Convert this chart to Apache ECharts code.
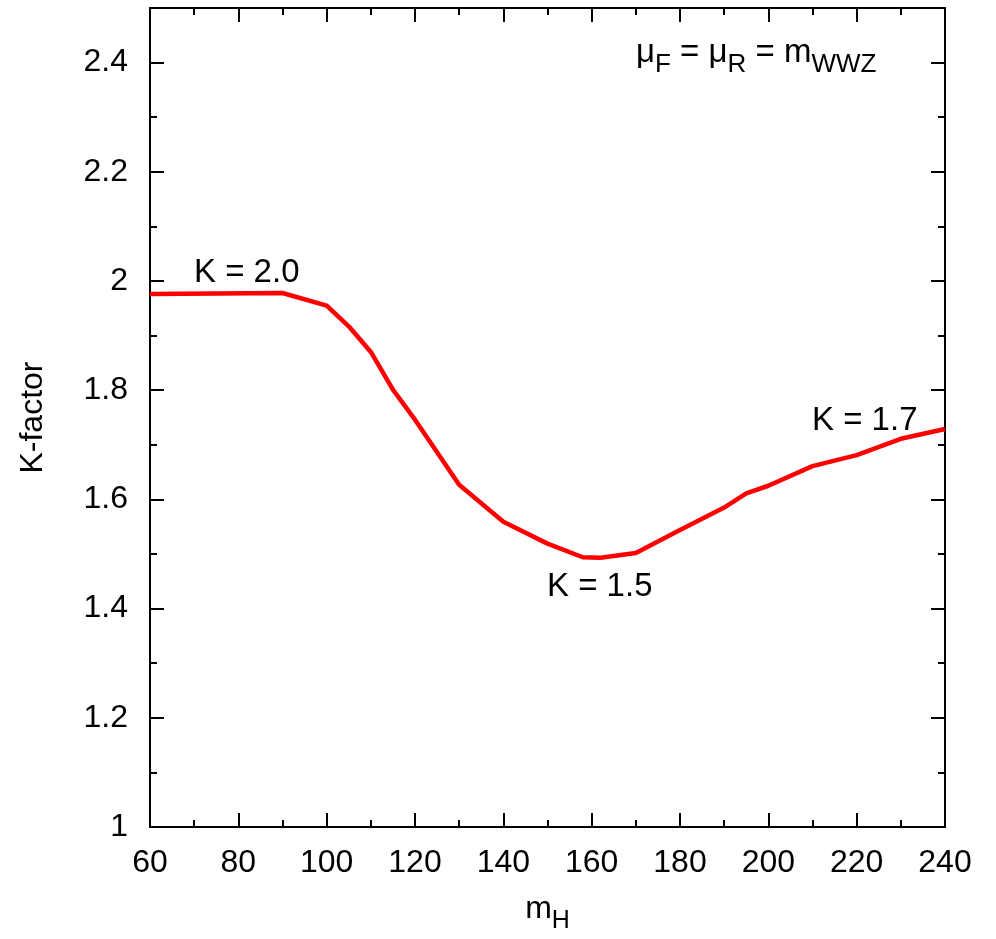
<!DOCTYPE html>
<html>
<head>
<meta charset="utf-8">
<script src="https://cdn.jsdelivr.net/npm/echarts@6/dist/echarts.min.js"></script>
<style>
  html, body { margin: 0; padding: 0; background: #ffffff; }
  #chart { width: 996px; height: 939px; }
</style>
</head>
<body>
<div id="chart"></div>
<script>
// Higgs mass values (GeV) and the NLO K-factor at each point
const higgsMass = [60, 90, 100, 105, 110, 115, 120, 130, 140, 150, 158, 162, 170, 180, 190, 195, 200, 210, 220, 230, 240];
const kFactor   = [1.976, 1.978, 1.955, 1.917, 1.870, 1.801, 1.746, 1.627, 1.559, 1.519, 1.494, 1.493, 1.502, 1.544, 1.585, 1.611, 1.625, 1.661, 1.681, 1.711, 1.729];

// Axis ranges
const xMin = 60, xMax = 240, xStep = 20;
const yMin = 1, yMax = 2.5, yStep = 0.2, yMinorStep = 0.1;

// Annotation texts
const kLabels = ['K = 2.0', 'K = 1.5', 'K = 1.7'];

const FONT = 'Liberation Sans, Arial, Helvetica, sans-serif';
const INK = '#000000';

const chart = echarts.init(document.getElementById('chart'), null, { renderer: 'canvas' });

function frameX(position, withLabels) {
  return {
    type: 'value', position: position, min: xMin, max: xMax, interval: xStep,
    axisLine: { show: true, onZero: false, lineStyle: { color: INK, width: 2 } },
    axisTick: { show: true, inside: true, length: 14, lineStyle: { color: INK, width: 2 } },
    minorTick: { show: true, splitNumber: 2, length: 7, lineStyle: { color: INK, width: 2 } },
    axisLabel: withLabels
      ? { show: true, margin: 20, color: INK, fontSize: 32, fontFamily: FONT }
      : { show: false },
    splitLine: { show: false }
  };
}

function frameY(position, step, tickLen, withLabels) {
  return {
    type: 'value', position: position, min: yMin, max: yMax, interval: step,
    axisLine: { show: true, onZero: false, lineStyle: { color: INK, width: 2 } },
    axisTick: { show: true, inside: true, length: tickLen, lineStyle: { color: INK, width: 2 } },
    axisLabel: withLabels
      ? { show: true, margin: 22, color: INK, fontSize: 32, fontFamily: FONT, showMaxLabel: false,
          formatter: v => (Math.round(v * 10) / 10).toString() }
      : { show: false },
    splitLine: { show: false }
  };
}

// Rich-text styles for a main run plus a lowered subscript run
function subscriptStyles(mainSize, subSize, lineHeight) {
  return {
    m: { fontSize: mainSize, fontFamily: FONT, color: INK, fill: INK, lineHeight: lineHeight },
    s: { fontSize: subSize, fontFamily: FONT, color: INK, fill: INK, lineHeight: subSize, verticalAlign: 'bottom' }
  };
}

const xAxisBottom = frameX('bottom', true);
xAxisBottom.name = '{m|m}{s|H}';
xAxisBottom.nameLocation = 'middle';
xAxisBottom.nameGap = 58;
xAxisBottom.nameTextStyle = { rich: subscriptStyles(32, 25, 49) };

const yAxisLeft = frameY('left', yStep, 14, true);
yAxisLeft.name = 'K-factor';
yAxisLeft.nameLocation = 'middle';
yAxisLeft.nameRotate = 90;
yAxisLeft.nameGap = 101;
yAxisLeft.nameTextStyle = { fontSize: 32, fontFamily: FONT, color: INK };

const option = {
  backgroundColor: '#ffffff',
  animation: false,
  grid: { left: 150, right: 51, top: 8, bottom: 105, containLabel: false },
  xAxis: [xAxisBottom, frameX('top', false)],
  yAxis: [
    yAxisLeft,
    frameY('left', yMinorStep, 7, false),
    frameY('right', yStep, 14, false),
    frameY('right', yMinorStep, 7, false)
  ],
  series: [{
    type: 'line',
    xAxisIndex: 0,
    yAxisIndex: 0,
    data: higgsMass.map((m, i) => [m, kFactor[i]]),
    showSymbol: false,
    symbol: 'none',
    lineStyle: { color: '#ff0000', width: 4.5 },
    z: 3
  }],
  graphic: [
    {
      type: 'text', left: 636, top: 36, z: 10,
      style: {
        text: '{m|μ}{s|F}{m| = μ}{s|R}{m| = m}{s|WWZ}',
        rich: subscriptStyles(33, 26, 50)
      }
    },
    { type: 'text', z: 10, style: { x: 194, y: 273, text: kLabels[0], fontSize: 33, fontFamily: FONT, fill: INK, align: 'left', verticalAlign: 'middle' } },
    { type: 'text', z: 10, style: { x: 547, y: 587, text: kLabels[1], fontSize: 33, fontFamily: FONT, fill: INK, align: 'left', verticalAlign: 'middle' } },
    { type: 'text', z: 10, style: { x: 812, y: 421, text: kLabels[2], fontSize: 33, fontFamily: FONT, fill: INK, align: 'left', verticalAlign: 'middle' } }
  ]
};

chart.setOption(option);
</script>
</body>
</html>
